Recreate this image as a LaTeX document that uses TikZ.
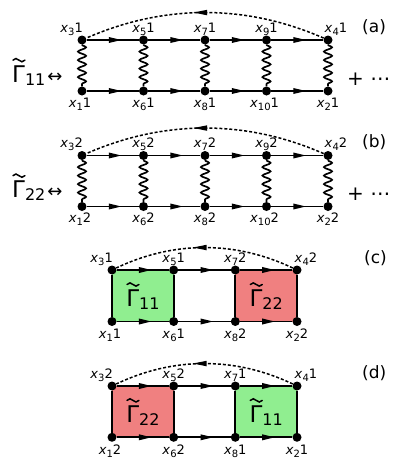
\documentclass[tikz,border=0pt]{standalone}
\usepackage{fontspec}
\setmainfont{DejaVu Sans}
\usetikzlibrary{decorations.pathmorphing,decorations.markings,arrows.meta,calc}
\definecolor{gfill}{HTML}{90EE90}
\definecolor{rfill}{HTML}{F08080}
\pgfdeclarelayer{background}
\pgfsetlayers{background,main}
\newcommand\xl[2]{\textit{x}\raisebox{-3pt}{\fontsize{10}{10}\selectfont #1}#2}
\newcommand\Gt{\rlap{\tikz[baseline=0pt,x=1em,y=1em]\draw[line width=0.065em,line cap=round] (0.05,0.95) sin (0.18,1.02) cos (0.31,0.95) sin (0.44,0.88) cos (0.57,0.95);}Γ}
\newcommand\Gam[1]{\Gt\raisebox{-3pt}{\fontsize{16}{16}\selectfont #1}}
\tikzset{
 vtx/.style={circle,fill=black,inner sep=0pt,minimum size=9pt},
 lbl/.style={inner sep=0pt,font=\fontsize{13}{13}\selectfont},
 big/.style={inner sep=0pt,font=\fontsize{23}{23}\selectfont},
 plab/.style={inner sep=0pt,anchor=base west,font=\fontsize{17}{17}\selectfont},
 hline/.style={line width=1.8pt, postaction={decorate}, decoration={markings, mark=at position 0.5 with {\arrow[xshift=9pt]{Triangle[length=13pt,width=5.5pt]}}}},
 plain/.style={line width=1.8pt},
 wavy/.style={line width=1.7pt, decorate, decoration={snake, segment length=8.5pt, amplitude=4pt}},
 loopline/.style={line width=1.5pt, dash pattern=on 3pt off 2pt, postaction={decorate}, decoration={markings, mark=at position 0.5 with {\arrow[xshift=12pt]{Triangle[length=14pt,width=5pt]}}}},
}
\begin{document}
\begin{tikzpicture}[x=1pt,y=-1pt]
\useasboundingbox (0,0) rectangle (409,461);
% ---------- panel (a)
\foreach \i/\x in {1/82,2/143.5,3/205,4/266.5,5/328} {
  \node[vtx] (aT\i) at (\x,40) {};
  \node[vtx] (aB\i) at (\x,91) {};
}
\foreach \i/\j in {1/2,2/3,3/4,4/5} {
  \draw[hline] (aT\i) -- (aT\j);
  \draw[hline] (aB\i) -- (aB\j);
}
\foreach \i in {1,...,5} \draw[wavy] (aT\i) -- (aB\i);
\draw[loopline] (aT5) .. controls ($(aT5)+(-82,-36)$) and ($(aT1)+(82,-36)$) .. (aT1);
\node[lbl,anchor=base east] (aL1) at (83,32) {\xl{3}{1}};
\node[lbl,anchor=base] (aL2) at (143.5,32) {\xl{5}{1}};
\node[lbl,anchor=base] (aL3) at (205,32) {\xl{7}{1}};
\node[lbl,anchor=base] (aL4) at (266.5,32) {\xl{9}{1}};
\node[lbl,anchor=base west] (aL5) at (324.5,32) {\xl{4}{1}};
\node[lbl,anchor=base] (aM1) at (80,107) {\xl{1}{1}};
\node[lbl,anchor=base] (aM2) at (143.5,107) {\xl{6}{1}};
\node[lbl,anchor=base] (aM3) at (205,107) {\xl{8}{1}};
\node[lbl,anchor=base] (aM4) at (264.5,107) {\xl{10}{1}};
\node[lbl,anchor=base] (aM5) at (328,107) {\xl{2}{1}};
\node[big,anchor=base west] (aG) at (12,82) {\Gam{11}\hspace{2pt}{\fontsize{18}{18}\selectfont ↔}};
\node[inner sep=0pt,anchor=base west,font=\fontsize{20}{20}\selectfont] (aP) at (347,85) {+ ⋯};
\node[plab] (aN) at (362,32) {(a)};
% ---------- panel (b)
\foreach \i/\x in {1/82,2/143.5,3/205,4/266.5,5/328} {
  \node[vtx] (bT\i) at (\x,155.5) {};
  \node[vtx] (bB\i) at (\x,206.5) {};
}
\foreach \i/\j in {1/2,2/3,3/4,4/5} {
  \draw[hline] (bT\i) -- (bT\j);
  \draw[hline] (bB\i) -- (bB\j);
}
\foreach \i in {1,...,5} \draw[wavy] (bT\i) -- (bB\i);
\draw[loopline] (bT5) .. controls ($(bT5)+(-82,-36)$) and ($(bT1)+(82,-36)$) .. (bT1);
\node[lbl,anchor=base east] (bL1) at (83,147.5) {\xl{3}{2}};
\node[lbl,anchor=base] (bL2) at (143.5,147.5) {\xl{5}{2}};
\node[lbl,anchor=base] (bL3) at (205,147.5) {\xl{7}{2}};
\node[lbl,anchor=base] (bL4) at (266.5,147.5) {\xl{9}{2}};
\node[lbl,anchor=base west] (bL5) at (324.5,147.5) {\xl{4}{2}};
\node[lbl,anchor=base] (bM1) at (80,222.5) {\xl{1}{2}};
\node[lbl,anchor=base] (bM2) at (143.5,222.5) {\xl{6}{2}};
\node[lbl,anchor=base] (bM3) at (205,222.5) {\xl{8}{2}};
\node[lbl,anchor=base] (bM4) at (264.5,222.5) {\xl{10}{2}};
\node[lbl,anchor=base] (bM5) at (328,222.5) {\xl{2}{2}};
\node[big,anchor=base west] (bG) at (12,197.5) {\Gam{22}\hspace{2pt}{\fontsize{18}{18}\selectfont ↔}};
\node[inner sep=0pt,anchor=base west,font=\fontsize{20}{20}\selectfont] (bP) at (347,200.5) {+ ⋯};
\node[plab] (bN) at (362,147.5) {(b)};
% ---------- panel (c)
\foreach \i/\x in {1/112,2/173.7,3/235.3,4/297} {
  \node[vtx] (cT\i) at (\x,270) {};
  \node[vtx] (cB\i) at (\x,321.5) {};
}
\begin{pgfonlayer}{background}
\fill[gfill] (cT1.center) rectangle (cB2.center);
\fill[rfill] (cT3.center) rectangle (cB4.center);
\end{pgfonlayer}
\foreach \i/\j in {1/2,2/3,3/4} {
  \draw[hline] (cT\i) -- (cT\j);
  \draw[hline] (cB\i) -- (cB\j);
}
\foreach \i in {1,...,4} \draw[plain] (cT\i) -- (cB\i);
\draw[loopline] (cT4) .. controls ($(cT4)+(-61.7,-29.3)$) and ($(cT1)+(61.7,-29.3)$) .. (cT1);
\node[big] (cG1) at ($(cT1)!0.5!(cB2)$) {\Gam{11}};
\node[big] (cG2) at ($(cT3)!0.5!(cB4)$) {\Gam{22}};
\node[lbl,anchor=base east] (cL1) at (113,262) {\xl{3}{1}};
\node[lbl,anchor=base] (cL2) at (173.7,262) {\xl{5}{1}};
\node[lbl,anchor=base] (cL3) at (235.3,262) {\xl{7}{2}};
\node[lbl,anchor=base west] (cL4) at (294.5,262) {\xl{4}{2}};
\node[lbl,anchor=base] (cM1) at (110,338) {\xl{1}{1}};
\node[lbl,anchor=base] (cM2) at (173.7,338) {\xl{6}{1}};
\node[lbl,anchor=base] (cM3) at (235.3,338) {\xl{8}{2}};
\node[lbl,anchor=base] (cM4) at (297,338) {\xl{2}{2}};
\node[plab] (cN) at (364,263) {(c)};
% ---------- panel (d)
\foreach \i/\x in {1/112,2/173.7,3/235.3,4/297} {
  \node[vtx] (dT\i) at (\x,386) {};
  \node[vtx] (dB\i) at (\x,437.3) {};
}
\begin{pgfonlayer}{background}
\fill[rfill] (dT1.center) rectangle (dB2.center);
\fill[gfill] (dT3.center) rectangle (dB4.center);
\end{pgfonlayer}
\foreach \i/\j in {1/2,2/3,3/4} {
  \draw[hline] (dT\i) -- (dT\j);
  \draw[hline] (dB\i) -- (dB\j);
}
\foreach \i in {1,...,4} \draw[plain] (dT\i) -- (dB\i);
\draw[loopline] (dT4) .. controls ($(dT4)+(-61.7,-29.3)$) and ($(dT1)+(61.7,-29.3)$) .. (dT1);
\node[big] (dG1) at ($(dT1)!0.5!(dB2)$) {\Gam{22}};
\node[big] (dG2) at ($(dT3)!0.5!(dB4)$) {\Gam{11}};
\node[lbl,anchor=base east] (dL1) at (113,378) {\xl{3}{2}};
\node[lbl,anchor=base] (dL2) at (173.7,378) {\xl{5}{2}};
\node[lbl,anchor=base] (dL3) at (235.3,378) {\xl{7}{1}};
\node[lbl,anchor=base west] (dL4) at (294.5,378) {\xl{4}{1}};
\node[lbl,anchor=base] (dM1) at (110,454) {\xl{1}{2}};
\node[lbl,anchor=base] (dM2) at (173.7,454) {\xl{6}{2}};
\node[lbl,anchor=base] (dM3) at (235.3,454) {\xl{8}{1}};
\node[lbl,anchor=base] (dM4) at (297,454) {\xl{2}{1}};
\node[plab] (dN) at (362,378) {(d)};
\end{tikzpicture}
\end{document}
